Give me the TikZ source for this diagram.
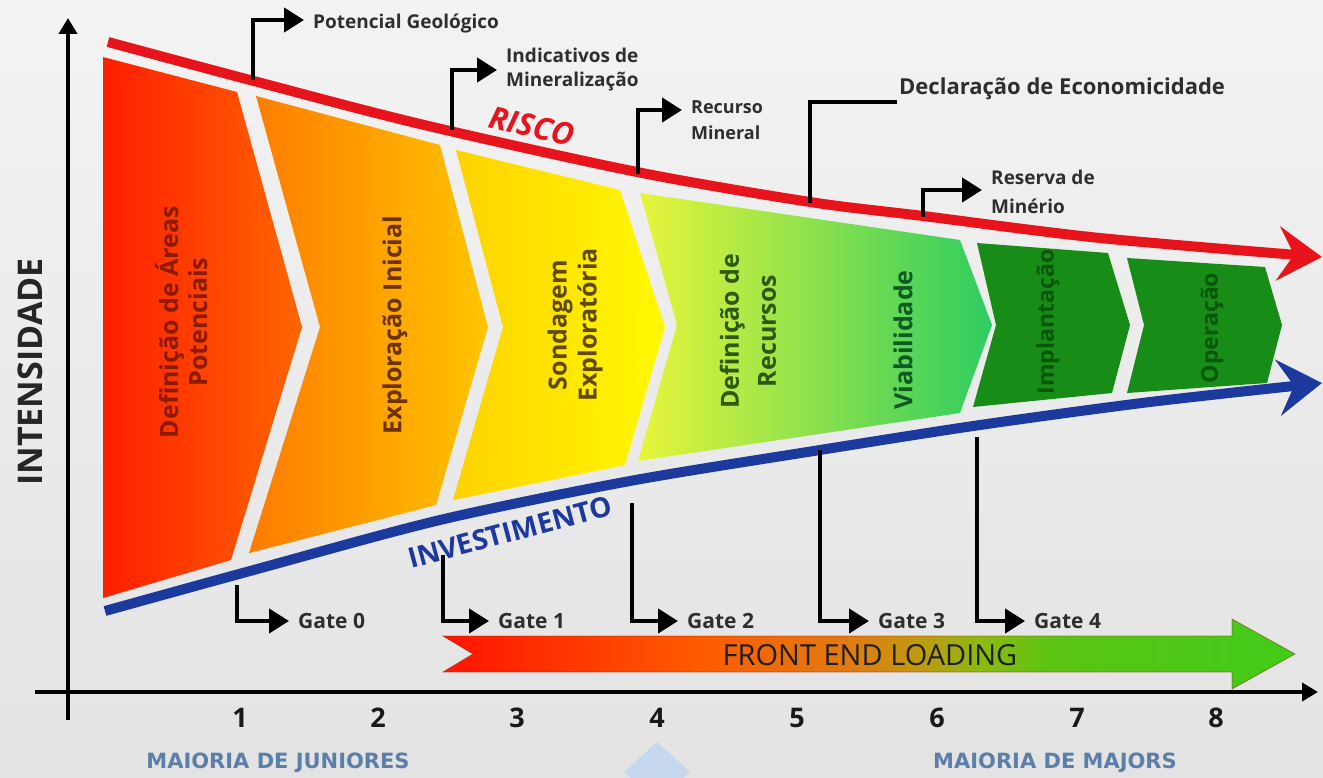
\documentclass[tikz,border=0pt]{standalone}
\usepackage{fontspec}
\setmainfont{Open Sans}
\newfontfamily\wide{DejaVu Sans}
\usetikzlibrary{arrows.meta}
\definecolor{bgtop}{HTML}{F3F3F3}
\definecolor{bgbot}{HTML}{E3E3E3}
\definecolor{riskred}{HTML}{E8141C}
\definecolor{invblue}{HTML}{1C3A9E}
\definecolor{labgray}{HTML}{2E2E2E}
\definecolor{majblue}{HTML}{5B7FA8}
\definecolor{diam}{HTML}{C6D8EE}
\definecolor{f0}{HTML}{FF1400}
\definecolor{f1}{HTML}{FF5A00}
\definecolor{f2}{HTML}{E07C10}
\definecolor{f3}{HTML}{C09A10}
\definecolor{f4}{HTML}{8CBA10}
\definecolor{f5}{HTML}{5CC414}
\definecolor{f6}{HTML}{40CC18}
\definecolor{t1}{HTML}{8A1A00}
\definecolor{t2}{HTML}{6B3300}
\definecolor{t3}{HTML}{5E4A00}
\definecolor{t4}{HTML}{2D5A10}
\definecolor{t5}{HTML}{0E5A20}
\definecolor{t6}{HTML}{0A560A}
\definecolor{dkgreen}{HTML}{178C17}
\pgfdeclarehorizontalshading{felshade}{100bp}{color(0bp)=(f0); color(25bp)=(f0); color(40bp)=(f1); color(49bp)=(f2); color(53bp)=(f3); color(56.5bp)=(f4); color(60.6bp)=(f5); color(75bp)=(f6); color(100bp)=(f6)}
\begin{document}
\begin{tikzpicture}[x=1pt,y=-1pt,
  lbl/.style={font=\fontsize{19}{24}\selectfont\bfseries, text=labgray, inner sep=1pt, align=left},
  bent/.style={line width=4.5pt, draw=black, -{Triangle[length=20pt,width=24pt]}, shorten >=8pt},
  plainbent/.style={line width=4.5pt, draw=black},
  stxt/.style={rotate=90, align=center, font=\fontsize{25}{29}\selectfont\bfseries},
  smtxt/.style={rotate=90, align=center, font=\fontsize{23}{27}\selectfont\bfseries, text=t6},
  num/.style={font=\fontsize{27}{30}\selectfont\bfseries, text=black!90},
  maj/.style={font=\wide\fontsize{21}{24}\selectfont\bfseries, text=majblue},
  axis/.style={line width=4.5pt, -{Triangle[length=16pt,width=18pt]}},
  gatelbl/.style={font=\fontsize{21}{24}\selectfont\bfseries, text=labgray, inner sep=1pt}
]
\useasboundingbox (0,0) rectangle (1323,778);
\shade[top color=bgtop, bottom color=bgbot] (0,0) rectangle (1323,778);
\fill[diam] (657,742) -- (690,772) -- (657,802) -- (624,772) -- cycle;

% axes
\coordinate (yb) at (68,720);
\coordinate (yt) at (68,18);
\coordinate (xl) at (35,692);
\coordinate (xr) at (1318,692);
\draw[axis] (yb) -- (yt);
\draw[axis] (xl) -- (xr);
\node[rotate=90, font=\fontsize{34}{38}\selectfont\bfseries, text=black!85] (int) at (30,372) {INTENSIDADE};

% chevrons
\shade[left color={rgb,255:red,255;green,30;blue,0}, right color={rgb,255:red,255;green,102;blue,0}]
  (103,57) -- (237,92) -- (302,327) -- (231,560) -- (103,598) -- cycle;
\shade[left color={rgb,255:red,255;green,122;blue,0}, right color={rgb,255:red,255;green,198;blue,0}]
  (256,96) -- (440,145) -- (488,327) -- (436,505) -- (249,553) -- (320,327) -- cycle;
\shade[left color={rgb,255:red,255;green,210;blue,0}, right color={rgb,255:red,255;green,250;blue,0}]
  (456,150) -- (620,190) -- (665,327) -- (625,465) -- (453,500) -- (503,327) -- cycle;
\shade[left color={rgb,255:red,232;green,245;blue,58}, middle color={rgb,255:red,170;green,225;blue,80}, right color={rgb,255:red,46;green,204;blue,96}]
  (640,193) -- (960,240) -- (992,325) -- (960,413) -- (638,461) -- (677,325) -- cycle;
\fill[dkgreen] (977,243) -- (1108,253) -- (1130,325) -- (1112,393) -- (973,407) -- (996,325) -- cycle;
\fill[dkgreen] (1127,258) -- (1265,267) -- (1282,325) -- (1267,383) -- (1127,393) -- (1144,325) -- cycle;

\node[stxt, text=t1, font=\fontsize{25}{29}\selectfont\bfseries] (s1) at (181,322) {Definição de Áreas\\Potenciais};
\node[stxt, text=t2] (s2) at (395,325) {Exploração Inicial};
\node[stxt, text=t3, font=\fontsize{25}{30}\selectfont\bfseries] (s3) at (575,325) {Sondagem\\Exploratória};
\node[stxt, text=t4, font=\fontsize{25}{37}\selectfont\bfseries] (s4) at (748,331) {Definição de\\Recursos};
\node[stxt, text=t5] (s5) at (903,340) {Viabilidade};
\node[smtxt] (s6) at (1048,322) {Implantação};
\node[smtxt] (s7) at (1212,328) {Operação};

% risk and investment
\draw[line width=10pt, riskred, -{Stealth[length=44pt,width=54pt,inset=16pt]}]
  plot[smooth, tension=0.5] coordinates {(108,42) (250,80) (420,124) (637,172) (810,202) (923,216) (1100,238) (1322,257)};
\draw[line width=10pt, invblue, -{Stealth[length=44pt,width=56pt,inset=16pt]}]
  plot[smooth, tension=0.5] coordinates {(105,611) (250,571) (440,520) (630,481) (820,450) (980,425) (1150,402) (1322,383)};
\node[font=\fontsize{31}{34}\selectfont\bfseries\itshape, text=riskred, rotate=-13] (risco) at (532,126) {RISCO};
\node[font=\fontsize{28}{30}\selectfont\bfseries, text=invblue, rotate=15] (inv) at (510,532) {INVESTIMENTO};

% top labels
\node[lbl, anchor=west] (pg) at (312,24) {Potencial Geológico};
\node[lbl, anchor=west] (im) at (505,70) {Indicativos de\\Mineralização};
\node[lbl, anchor=west, font=\fontsize{18}{26}\selectfont\bfseries] (rm) at (690,120) {Recurso\\Mineral};
\node[lbl, anchor=south west, font=\fontsize{22}{26}\selectfont\bfseries, inner sep=2pt] (de) at (897,102) {Declaração de Economicidade};
\node[lbl, anchor=west, font=\fontsize{19}{29}\selectfont\bfseries] (rs) at (990,192) {Reserva de\\Minério};
\coordinate (r1) at (253,80);
\coordinate (r2) at (452,130);
\coordinate (r3) at (638,174);
\coordinate (r4) at (810,203);
\coordinate (r5) at (923,217);
\draw[bent] (r1) |- ([yshift=4pt]pg.west);
\draw[bent] (r2) |- (im.west);
\draw[bent] (r3) |- ([yshift=10pt]rm.west);
\draw[plainbent] (r4) |- (de.south west);
\draw[bent] (r5) |- ([yshift=2pt]rs.west);

% gates
\node[gatelbl, anchor=west] (g0) at (297,621) {Gate 0};
\node[gatelbl, anchor=west] (g1) at (497,621) {Gate 1};
\node[gatelbl, anchor=west] (g2) at (686,621) {Gate 2};
\node[gatelbl, anchor=west] (g3) at (877,621) {Gate 3};
\node[gatelbl, anchor=west] (g4) at (1033,621) {Gate 4};
\coordinate (b0) at (237,585);
\coordinate (b1) at (443,555);
\coordinate (b2) at (632,503);
\coordinate (b3) at (820,450);
\coordinate (b4) at (977,437);
\draw[bent] (b0) |- (g0.west);
\draw[bent] (b1) |- (g1.west);
\draw[bent] (b2) |- (g2.west);
\draw[bent] (b3) |- (g3.west);
\draw[bent] (b4) |- (g4.west);

% front end loading
\shade[shading=felshade, draw={rgb,255:red,150;green,30;blue,20}, draw opacity=0.5, line width=0.8pt]
  (443,636) -- (1232,636) -- (1232,619) -- (1295,654) -- (1232,689) -- (1232,672) -- (443,672) -- (473,654) -- cycle;
\node[font=\fontsize{29}{32}\selectfont, text=black!88] (fel) at (870,655) {FRONT END LOADING};

% numbers
\foreach \n/\x in {1/240,2/378,3/517,4/657,5/797,6/937,7/1077,8/1216}{
  \node[num] (n\n) at (\x,718) {\n};
}
\node[maj] (mj) at (278,763) {MAIORIA DE JUNIORES};
\node[maj] (mm) at (1055,763) {MAIORIA DE MAJORS};
\end{tikzpicture}
\end{document}
